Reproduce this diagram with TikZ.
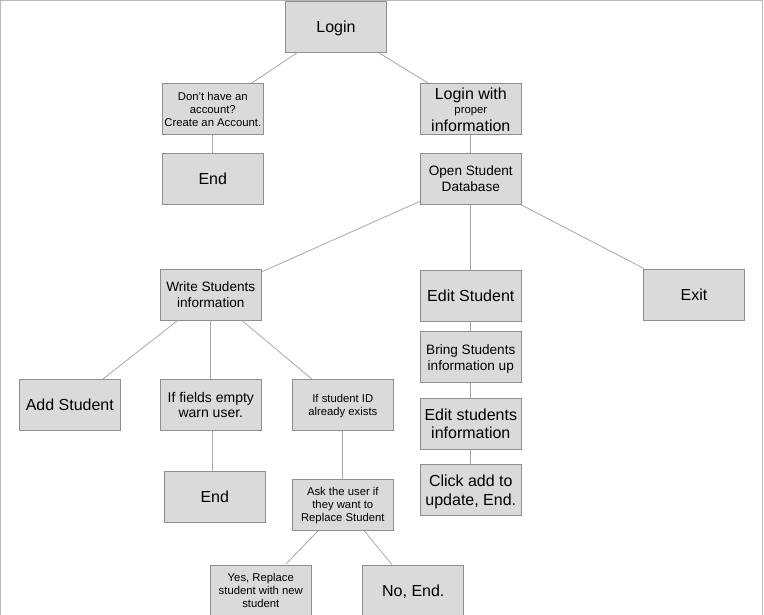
\documentclass[tikz,border=0pt]{standalone}
\usepackage{fontspec}
\setmainfont{Liberation Sans}
\definecolor{boxfill}{HTML}{DADADA}
\definecolor{boxline}{HTML}{8E8E8E}
\definecolor{wirecol}{HTML}{A8A8A8}
\definecolor{framecol}{HTML}{B8B8B8}
\newcommand\FtBig{\fontsize{16}{18.7}\selectfont}
\newcommand\FtMid{\fontsize{13.6}{16}\selectfont}
\newcommand\FtSmall{\fontsize{11.3}{13}\selectfont}
\begin{document}
\begin{tikzpicture}[x=1pt,y=-1pt,
  box/.style={draw=boxline, fill=boxfill, line width=0.9pt, minimum width=101pt,
    minimum height=51pt, inner sep=0pt, align=center, font=\FtBig, text depth=-2pt},
  mid/.style={font=\FtMid},
  small/.style={font=\FtSmall},
  wire/.style={draw=wirecol, line width=0.8pt}]
\useasboundingbox (0,0) rectangle (764,615);
\draw[framecol, line width=1pt] (0.5,616) -- (0.5,0.5) -- (762.5,0.5) -- (762.5,616);

\node[box] (login) at (336,26.5) {Login};
\node[box, small] (noacc) at (212.8,109.3) {Don't have an\\account?\\Create an Account.};
\node[box] (end1) at (212.8,178.7) {End};
\node[box] (lwith) at (470.8,109.3) {Login with\\[-4pt]{\FtSmall proper}\\[-1.3pt]information};
\node[box, mid] (open) at (470.8,178.7) {Open Student\\Database};
\node[box, mid] (write) at (210.8,294.5) {Write Students\\information};
\node[box] (add) at (69.8,405) {Add Student};
\node[box, font=\fontsize{14}{15.3}\selectfont] (empty) at (210.8,405) {If fields empty\\warn user.};
\node[box, small] (idex) at (342.8,405) {If student ID\\already exists};
\node[box] (end2) at (214.8,497.2) {End};
\node[box, small] (ask) at (342.8,504.8) {Ask the user if\\they want to\\Replace Student};
\node[box, small] (yes) at (260.8,590.5) {Yes, Replace\\student with new\\student};
\node[box] (no) at (413.3,590.5) {No, End.};
\node[box] (edit) at (470.8,295.8) {Edit Student};
\node[box, mid] (bring) at (470.8,357.2) {Bring Students\\information up};
\node[box] (editinfo) at (470.8,423.8) {Edit students\\information};
\node[box] (click) at (470.8,490) {Click add to\\update, End.};
\node[box] (exit) at (694,294.5) {Exit};

\draw[wire] (login) -- (noacc);
\draw[wire] (login) -- (lwith);
\draw[wire] (noacc) -- (end1);
\draw[wire] (lwith) -- (open);
\draw[wire] (open) -- (write);
\draw[wire] (open) -- (edit);
\draw[wire] (open) -- (exit);
\draw[wire] (write) -- (add);
\draw[wire] (write) -- (empty);
\draw[wire] (write) -- (idex);
\draw[wire] ([xshift=-2pt]end2.north |- empty.south) -- ([xshift=-2pt]end2.north);
\draw[wire] (idex) -- (ask);
\draw[wire] (ask) -- (yes);
\draw[wire] (ask) -- (no);
\draw[wire] (edit) -- (bring);
\draw[wire] (bring) -- (editinfo);
\draw[wire] (editinfo) -- (click);
\end{tikzpicture}
\end{document}
